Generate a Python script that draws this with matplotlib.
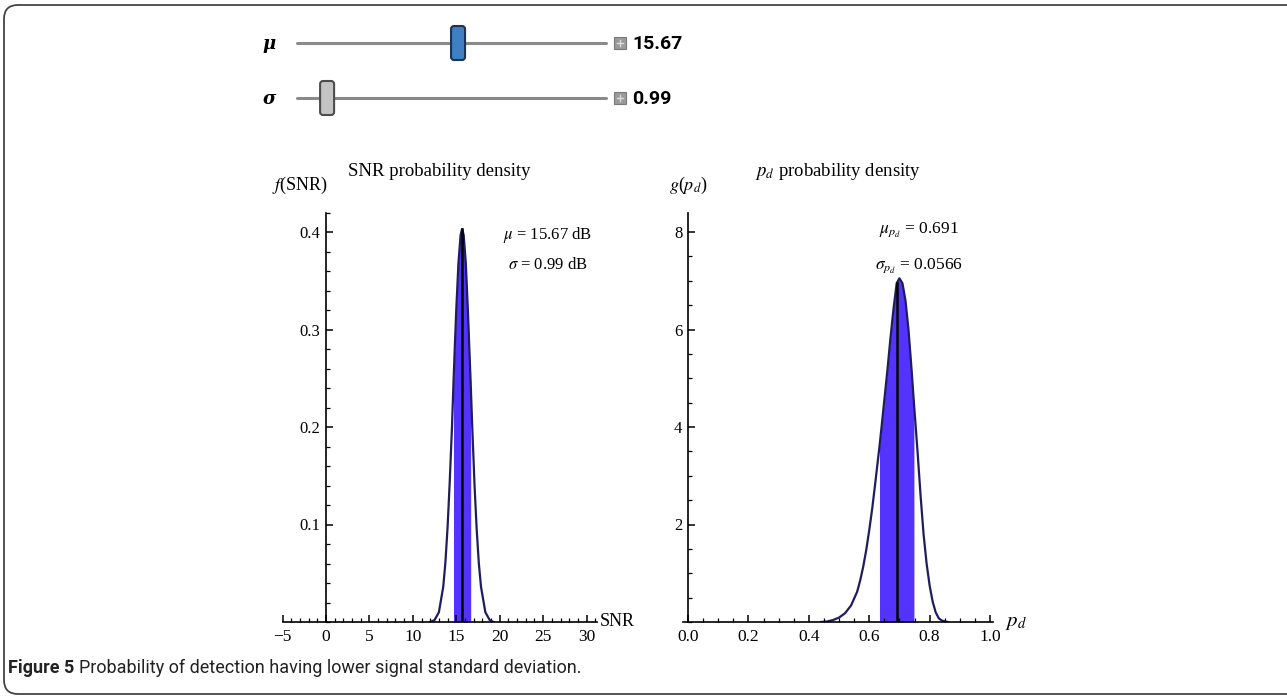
import matplotlib
matplotlib.use("Agg")
import matplotlib.pyplot as plt
from matplotlib.patches import FancyBboxPatch, Rectangle
from matplotlib.ticker import MultipleLocator

plt.rcParams["font.family"] = ["Liberation Serif", "DejaVu Serif"]
plt.rcParams["mathtext.fontset"] = "stix"

# slider values
mu_val = 15.67
sigma_val = 0.99
mu_range = (0, 30)
sigma_range = (0.5, 7)

# SNR density
snr_x = [12.0, 12.5, 13.0, 13.5, 13.75, 14.0, 14.25, 14.5, 14.68, 14.85, 15.0, 15.25, 15.5, 15.67,
         15.85, 16.1, 16.35, 16.66, 16.85, 17.1, 17.35, 17.6, 17.85, 18.35, 18.85, 19.3]
snr_y = [0.0, 0.002, 0.010, 0.036, 0.061, 0.097, 0.144, 0.198, 0.245, 0.286, 0.32, 0.368, 0.397, 0.403,
         0.397, 0.368, 0.317, 0.245, 0.198, 0.141, 0.095, 0.060, 0.036, 0.010, 0.002, 0.0]
snr_band = (14.68, 16.66)

# pd density
pd_x = [0.44, 0.46, 0.48, 0.50, 0.52, 0.54, 0.56, 0.57, 0.58, 0.59, 0.60, 0.61, 0.62, 0.634, 0.64,
        0.65, 0.66, 0.67, 0.68, 0.691, 0.70, 0.71, 0.72, 0.73, 0.74, 0.748, 0.76, 0.77, 0.78, 0.79,
        0.80, 0.81, 0.82, 0.83, 0.84, 0.86]
pd_y = [0.0, 0.01, 0.04, 0.09, 0.18, 0.34, 0.62, 0.85, 1.13, 1.47, 1.88, 2.33, 2.85, 3.6, 3.95,
        4.55, 5.15, 5.8, 6.4, 6.95, 7.05, 6.95, 6.6, 6.0, 5.2, 4.5, 3.5, 2.6, 1.8, 1.2,
        0.75, 0.42, 0.2, 0.08, 0.03, 0.0]
pd_mu = 0.691
pd_sigma = 0.0566
pd_band = (0.634, 0.748)

W, H = 1287, 696
fig = plt.figure(figsize=(W / 100, H / 100), dpi=100)

# overlay in pixel coords for frame, sliders, caption
ov = fig.add_axes([0, 0, 1, 1])
ov.set_xlim(0, W)
ov.set_ylim(H, 0)
ov.axis("off")

ov.add_patch(FancyBboxPatch((4, 5), W + 20, 689, boxstyle="round,pad=0,rounding_size=14",
                            fill=False, ec="#444444", lw=1.3))

sans = ["Roboto", "DejaVu Sans"]


def slider(y, label, val, rng, thumb_fc, thumb_ec, txt):
    x0, x1 = 297, 606
    ov.plot([x0, x1], [y, y], color="#8a8a8a", lw=2.2, solid_capstyle="round")
    ov.text(276, y + 1, label, fontsize=13, fontweight="bold", style="italic",
            ha="right", va="center", family=["DejaVu Serif"])
    f = (val - rng[0]) / (rng[1] - rng[0])
    xt = x0 + 8 + f * (x1 - x0 - 16)
    ov.add_patch(FancyBboxPatch((xt - 7, y - 17), 14, 34, boxstyle="round,pad=0,rounding_size=3",
                                fc=thumb_fc, ec=thumb_ec, lw=1.5, zorder=3))
    ov.add_patch(Rectangle((614, y - 6), 12, 12, fc="#9a9a9a", ec="#7a7a7a", lw=0.8))
    ov.plot([617, 623], [y, y], color="#dddddd", lw=1)
    ov.plot([620, 620], [y - 3, y + 3], color="#dddddd", lw=1)
    ov.text(632, y + 1, txt, fontsize=14, fontweight="bold", ha="left", va="center", family=sans)


slider(43, "μ", mu_val, mu_range, "#3f7fc4", "#1b3558", "15.67")
slider(98, "σ", sigma_val, sigma_range, "#c4c4c4", "#4d4d4d", "0.99")

cap = ov.text(8, 668, "Figure 5 ", fontsize=13, fontweight="bold", ha="left", va="center",
              family=sans, color="#222222")
ov.annotate("Probability of detection having lower signal standard deviation.", xy=(1, 0.5),
            xycoords=cap, fontsize=13, ha="left", va="center", family=sans, color="#222222")

band_color = "#5533ff"
line_color = "#1e1e5c"


def px_axes(left, right, top, bottom):
    return fig.add_axes([left / W, 1 - bottom / H, (right - left) / W, (bottom - top) / H])


def style(ax):
    for s in ("top", "right"):
        ax.spines[s].set_visible(False)
    ax.spines["left"].set_position(("data", 0))
    ax.spines["left"].set_linewidth(1.2)
    ax.spines["bottom"].set_linewidth(1.2)
    ax.tick_params(which="both", direction="in")
    ax.tick_params(which="major", length=5, width=1.1)
    ax.tick_params(which="minor", length=2.6, width=0.9)
    ax.tick_params(axis="x", labelsize=12.5, pad=5)
    ax.tick_params(axis="y", labelsize=12, pad=4)
    ax.patch.set_alpha(0)


# left: SNR density
ax1 = px_axes(282.5, 597, 212.5, 622)
ax1.set_xlim(-5, 31.2)
ax1.set_ylim(0, 0.42)
style(ax1)
ax1.xaxis.set_major_locator(MultipleLocator(5))
ax1.xaxis.set_minor_locator(MultipleLocator(1))
ax1.set_yticks([0.1, 0.2, 0.3, 0.4])
ax1.set_yticklabels(["0.1", "0.2", "0.3", "0.4"])
ax1.yaxis.set_minor_locator(MultipleLocator(0.02))
ax1.fill_between(snr_x, snr_y, where=[snr_band[0] <= v <= snr_band[1] for v in snr_x],
                 color=band_color, lw=0)
ax1.plot(snr_x, snr_y, color=line_color, lw=1.6)
ax1.plot([mu_val, mu_val], [0, max(snr_y)], color="black", lw=1.8)
ax1.text(0.5, 1.1, "SNR probability density", transform=ax1.transAxes, fontsize=13.5,
         ha="center", va="center")
ax1.text(-3.0, 0.448, "$f$(SNR)", fontsize=13, ha="center", va="center")
ax1.text(33.5, 0, "SNR", fontsize=13, ha="center", va="center", clip_on=False)
ax1.text(25.5, 0.397, r"$\mu$ = 15.67 dB", fontsize=12, ha="center", va="center")
ax1.text(25.5, 0.366, r"$\sigma$ = 0.99 dB", fontsize=12, ha="center", va="center")

# right: pd density
ax2 = px_axes(683, 993, 212.5, 622)
ax2.set_xlim(-0.0166, 1.0099)
ax2.set_ylim(0, 8.4)
style(ax2)
ax2.xaxis.set_major_locator(MultipleLocator(0.2))
ax2.xaxis.set_minor_locator(MultipleLocator(0.05))
ax2.xaxis.set_major_formatter(lambda v, p: f"{v:.1f}")
ax2.set_yticks([2, 4, 6, 8])
ax2.yaxis.set_minor_locator(MultipleLocator(0.5))
ax2.fill_between(pd_x, pd_y, where=[pd_band[0] <= v <= pd_band[1] for v in pd_x],
                 color=band_color, lw=0)
ax2.plot(pd_x, pd_y, color=line_color, lw=1.6)
ax2.plot([pd_mu, pd_mu], [0, pd_y[pd_x.index(pd_mu)]], color="black", lw=1.8)
ax2.text(0.5, 1.1, "$p_d$ probability density", transform=ax2.transAxes, fontsize=13.5,
         ha="center", va="center")
ax2.text(0.0, 8.96, "$g$($p_d$)", fontsize=13, ha="center", va="center")
ax2.text(1.085, -0.02, "$p_d$", fontsize=15, ha="center", va="center", clip_on=False)
ax2.text(0.765, 8.05, r"$\mu_{p_d}$ = 0.691", fontsize=12.5, ha="center", va="center")
ax2.text(0.765, 7.3, r"$\sigma_{p_d}$ = 0.0566", fontsize=12.5, ha="center", va="center")

fig.savefig("out.png", dpi=100)
